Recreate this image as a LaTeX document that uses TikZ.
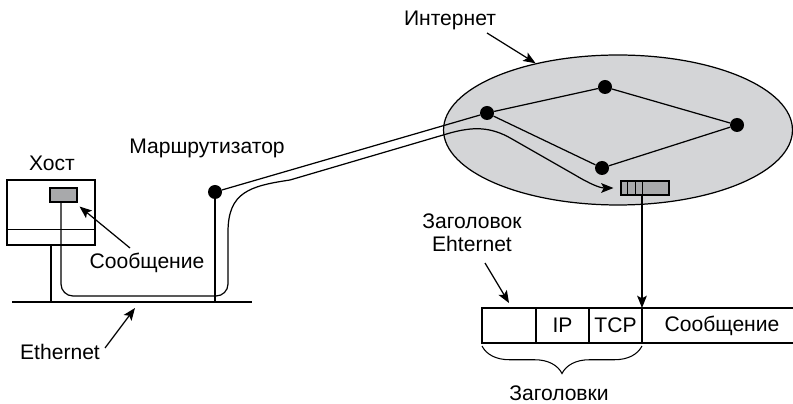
\documentclass[tikz,border=0pt]{standalone}
\usepackage{fontspec}
\setmainfont{Liberation Sans}
\usetikzlibrary{arrows.meta, positioning, calc, shapes.geometric, decorations.pathreplacing}
\definecolor{netCloud}{HTML}{D4D5D7}
\definecolor{netBox}{HTML}{A8A9AB}

\begin{document}
\begin{tikzpicture}[x=0.02cm, y=-0.02cm,
      lbl/.style={font=\fontsize{12}{13}\selectfont, inner sep=1pt},
      wire/.style={line width=0.7pt},
      dot/.style={circle, fill=black, inner sep=0pt, minimum size=0.28cm},
      cell/.style={draw, line width=0.6pt, minimum width=1.06cm,
                   minimum height=0.7cm, outer sep=0pt, inner sep=0pt,
                   font=\fontsize{12}{15}\selectfont},
      arr/.style={-{Stealth[length=7pt, width=5.5pt, inset=1.5pt]}, line width=0.7pt}]
    \useasboundingbox (0,0) rectangle (793,404);
    % internet cloud
    \node[ellipse, draw, wire, fill=netCloud, inner sep=0pt,
          minimum width=6.98cm, minimum height=3cm] (cloud) at (618,130) {};
    \node[dot] (nA) at (487,113) {};
    \node[dot] (nB) at (605,87) {};
    \node[dot] (nC) at (737,125) {};
    \node[dot] (nD) at (602,168) {};
    \draw[wire] (nA) -- (nB) -- (nC) -- (nD) -- (nA);
    \node[draw, line width=0.6pt, fill=netBox, minimum width=0.96cm,
          minimum height=0.28cm, inner sep=0pt] (pkt) at (645,188) {};
    \foreach \dx in {7,15,22}
      \draw[line width=0.6pt] ([xshift=\dx*0.02cm]pkt.north west)
        -- ([xshift=\dx*0.02cm]pkt.south west);
    \node[lbl] (inet) at (450,20) {Интернет};
    \coordinate (inetArr) at (487,33);
    \draw[arr] (inetArr) -- (cloud.141);
    % host and ethernet
    \node[draw, wire, minimum width=1.76cm, minimum height=1.3cm,
          inner sep=0pt] (host) at (51,212.5) {};
    \draw[wire] ([yshift=0.32cm]host.south west) -- ([yshift=0.32cm]host.south east);
    \node[draw, line width=0.6pt, fill=netBox, minimum width=0.54cm,
          minimum height=0.28cm, inner sep=0pt] (msg) at (63.5,195) {};
    \node[lbl] (hostLbl) at (52,163) {Хост};
    \coordinate (ethL) at (12,302);
    \coordinate (ethR) at (252,302);
    \draw[wire] (ethL) -- (ethR);
    \draw[wire] (host.south) -- (host.south |- ethL);
    \node[dot] (router) at (215,192) {};
    \node[lbl] (routerLbl) at (207,148) {Маршрутизатор};
    \draw[wire] (router.center) -- (router.center |- ethL);
    \draw[wire] (router) -- (nA);
    \node[lbl] (msgLbl) at (147,263) {Сообщение};
    \coordinate (msgArr) at (130,248);
    \draw[arr] (msgArr) -- ([shift={(2,4)}]msg.south east);
    \node[lbl] (ethLbl) at (60,352) {Ethernet};
    \coordinate (ethArr) at (105,348);
    \draw[arr] (ethArr) -- (135,308);
    % path of the message
    \draw[arr] ($(msg.south)+(-2.5,0)$) -- (61,284) to[out=-90, in=180] (73,296)
      -- (216,296) to[out=0, in=-90] (228,284) -- (228,232)
      .. controls (228,192) and (250,186) .. (290,180) -- (450,133)
      .. controls (472,127) and (490,126) .. (512,139) -- (575,175)
      .. controls (590,184) and (600,188) .. ($(pkt.west)+(-7,0)$);
    % frame
    \node[cell, minimum width=1.08cm] (eth) at (509,325.5) {};
    \node[cell, right=0pt of eth] (ip) {IP};
    \node[cell, right=0pt of ip] (tcp) {TCP};
    \draw[line width=0.6pt] (tcp.north east) -- ++(151,0);
    \draw[line width=0.6pt] (tcp.south east) -- ++(151,0);
    \node[lbl] (dataLbl) at (722,326) {Сообщение};
    \draw[arr] (pkt.south -| tcp.east) -- (tcp.north east);
    \node[lbl, align=center] (hdrLbl) at (472,233) {Заголовок\\Ehternet};
    \coordinate (hdrArr) at (485,263);
    \draw[arr] (hdrArr) -- ([shift={(0,-5)}]eth.north);
    \draw[line width=0.6pt, decorate, decoration={brace, mirror, amplitude=0.55cm}]
      ([yshift=-0.06cm]eth.south west) -- ([yshift=-0.06cm]tcp.south east);
    \node[lbl] (hdrsLbl) at (559,393) {Заголовки};
  \end{tikzpicture}
\end{document}
